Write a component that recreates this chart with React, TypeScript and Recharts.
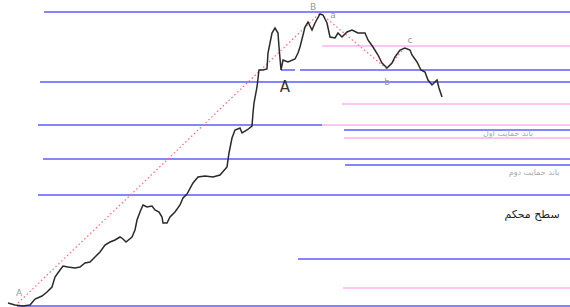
import {
  ComposedChart,
  Line,
  ReferenceDot,
  ReferenceLine,
  XAxis,
  YAxis,
} from "recharts";

// bar index and close price of the traced price path
const bars = [
  8, 15, 23, 30, 35, 42, 47, 52, 55, 60, 63, 68, 75, 80, 85, 90, 95, 100, 105, 110,
  115, 120, 123, 126, 132, 135, 137, 140, 143, 147, 152, 155, 159, 162, 163, 167, 170, 175, 180, 183,
  187, 193, 198, 205, 213, 220, 227, 229, 232, 235, 240, 242, 247, 252, 253, 254, 257, 259, 263, 267,
  268, 272, 275, 278, 279, 281, 283, 288, 295, 298, 300, 305, 308, 312, 315, 320, 323, 327, 330, 335,
  338, 342, 347, 352, 358, 365, 368, 373, 378, 382, 387, 392, 395, 400, 405, 410, 412, 417, 421, 425,
  428, 432, 437, 439, 442,
];
const closes = [
  4, 2, 1, 2, 8, 11, 15, 20, 30, 37, 41, 40, 39, 40, 44, 45, 50, 55, 62, 65,
  67, 70, 68, 65, 70, 77, 87, 95, 102, 100, 101, 97, 95, 90, 84, 84, 90, 95, 102, 109,
  113, 124, 130, 131, 130, 132, 140, 154, 169, 177, 179, 174, 177, 181, 194, 204, 220, 237, 237, 238,
  254, 274, 279, 274, 260, 237, 247, 245, 248, 254, 260, 280, 285, 277, 284, 293, 292, 284, 270, 269,
  274, 270, 275, 277, 274, 274, 267, 260, 252, 244, 239, 244, 250, 257, 259, 257, 252, 245, 237, 235,
  227, 222, 227, 219, 210,
];

// wave pivots A - B - b - c
const pivotBars = [18, 320, 387, 405];
const pivotPrices = [4, 294, 238, 260];

// horizontal levels: [price, fromBar, toBar]
const blueLevels = [
  [295, 44, 570],
  [237, 281, 295],
  [237, 300, 570],
  [225, 40, 570],
  [182, 38, 322],
  [177, 344, 570],
  [148, 43, 570],
  [142, 345, 570],
  [112, 38, 570],
  [48, 298, 570],
  [1, 17, 570],
];
const pinkLevels = [
  [261, 322, 570],
  [203, 342, 570],
  [182, 322, 570],
  [169, 344, 570],
  [19, 343, 570],
];

const pointLabels = ["A", "A", "B", "a", "b", "c"];
const pointLabelBars = [19, 285, 313, 333, 387, 410];
const pointLabelPrices = [14, 220, 300, 292, 225, 267];

const zoneLabels = ["باند حمایت اول", "باند حمایت دوم", "سطح محکم"];
const zoneLabelBars = [508, 534, 532];
const zoneLabelPrices = [174, 135, 93];

const priceData = bars.map((t, i) => ({ t, close: closes[i] }));
const waveData = pivotBars.map((t, i) => ({ t, wave: pivotPrices[i] }));

const FONT = "'DejaVu Sans', sans-serif";

function tag(text: string, color: string, size: number) {
  return (p: any) => {
    const { x, y } = p.viewBox;
    return (
      <text
        x={x}
        y={y}
        fill={color}
        fontSize={size}
        fontFamily={FONT}
        textAnchor="middle"
        dominantBaseline="central"
      >
        {text}
      </text>
    );
  };
}

export default function App() {
  return (
    <div style={{ position: "absolute", left: 0, top: 0, background: "#fff" }}>
      <ComposedChart
        width={570}
        height={307}
        margin={{ top: 0, right: 0, bottom: 0, left: 0 }}
      >
        <XAxis type="number" dataKey="t" domain={[0, 570]} hide allowDataOverflow />
        <YAxis type="number" domain={[0, 307]} hide allowDataOverflow />

        {pinkLevels.map(([v, a, b], i) => (
          <ReferenceLine
            key={"p" + i}
            segment={[{ x: a, y: v }, { x: b, y: v }]}
            stroke="#ffc6ef"
            strokeWidth={2}
          />
        ))}
        {blueLevels.map(([v, a, b], i) => (
          <ReferenceLine
            key={"b" + i}
            segment={[{ x: a, y: v }, { x: b, y: v }]}
            stroke="#8585ff"
            strokeWidth={2}
          />
        ))}

        <Line
          data={waveData}
          dataKey="wave"
          type="linear"
          stroke="#ff6a6a"
          strokeWidth={1.2}
          strokeDasharray="1.5 2.5"
          dot={false}
          activeDot={false}
          legendType="none"
          isAnimationActive={false}
        />
        <Line
          data={priceData}
          dataKey="close"
          type="linear"
          stroke="#2a2a2a"
          strokeWidth={1.5}
          dot={false}
          activeDot={false}
          legendType="none"
          isAnimationActive={false}
        />

        {pointLabels.map((s, i) => (
          <ReferenceDot
            key={"l" + i}
            x={pointLabelBars[i]}
            y={pointLabelPrices[i]}
            r={0}
            fill="none"
            stroke="none"
            label={tag(s, i === 1 ? "#333" : "#999", i === 1 ? 15 : 9)}
          />
        ))}
        {zoneLabels.map((s, i) => (
          <ReferenceDot
            key={"z" + i}
            x={zoneLabelBars[i]}
            y={zoneLabelPrices[i]}
            r={0}
            fill="none"
            stroke="none"
            label={tag(s, i === 2 ? "#222" : "#aaa", i === 2 ? 11 : 8)}
          />
        ))}
      </ComposedChart>
    </div>
  );
}
